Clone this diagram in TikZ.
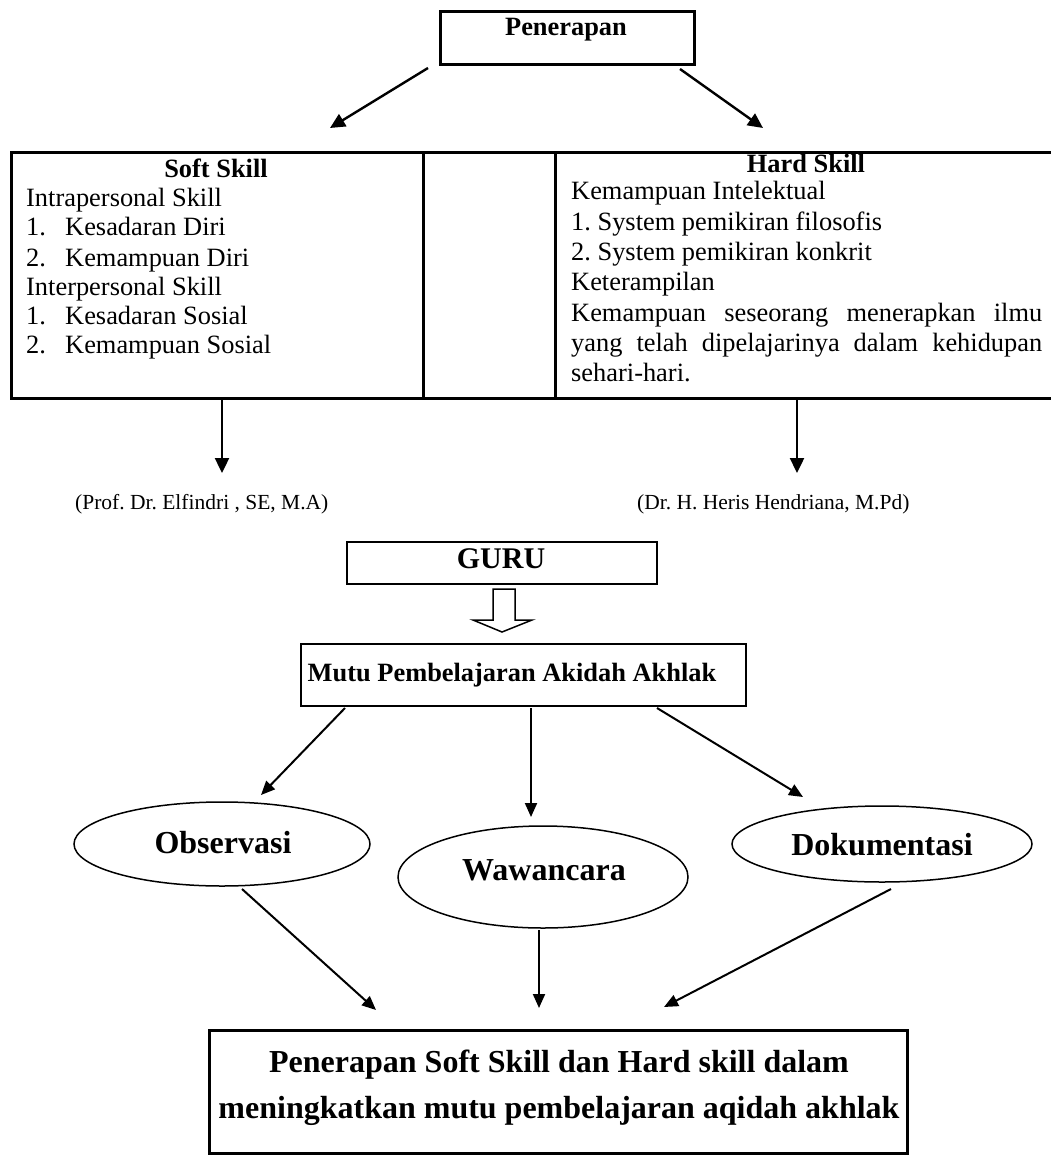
\documentclass[tikz,border=0pt]{standalone}
\usepackage{fontspec}
\setmainfont{Liberation Serif}
\frenchspacing
\usetikzlibrary{arrows.meta,shapes.geometric,calc}
\tikzset{
 body/.style={inner sep=0pt, font=\fontsize{26.4}{29}\selectfont},
 cite/.style={inner sep=0pt, font=\fontsize{21.5}{26}\selectfont},
 hdr/.style={inner sep=0pt, font=\fontsize{26.4}{29}\selectfont\bfseries},
 big/.style={inner sep=0pt, font=\fontsize{32}{38}\selectfont\bfseries},
 arr/.style={line width=2.4pt, -{Triangle[length=15pt,width=14pt]}},
 marr/.style={line width=2pt, -{Triangle[length=14pt,width=12pt]}},
 cell/.style={draw, line width=2.6pt, inner sep=0pt, anchor=north west},
 box/.style={draw, line width=2pt, inner sep=0pt, anchor=north west},
 oval/.style={draw, ellipse, line width=1.5pt, inner sep=0pt},
}
\begin{document}
\begin{tikzpicture}[x=1pt,y=-1pt]
\useasboundingbox (0,0) rectangle (1051,1158);
% top box
\node[box, line width=2.6pt, minimum width=254pt, minimum height=53pt] (pen) at (439,10) {};
\node[hdr, anchor=base] (pentxt) at (566,36) {Penerapan};
\coordinate (p1s) at (428,68); \coordinate (p1e) at (330,128);
\coordinate (p2s) at (680,69); \coordinate (p2e) at (763,128);
\draw[arr] (p1s) -- (p1e);
\draw[arr] (p2s) -- (p2e);
% table
\node[cell, minimum width=412pt, minimum height=246pt] (soft) at (10,151) {};
\node[cell, minimum width=132pt, minimum height=246pt] (mid) at (422,151) {};
\node[cell, minimum width=508pt, minimum height=246pt] (hard) at (554,151) {};
\node[hdr, anchor=base] (st) at (216,178) {Soft Skill};
\node[body, anchor=base west] (s1) at (26,207) {Intrapersonal Skill};
\node[body, anchor=base west] (s2n) at (26,236) {1.};
\node[body, anchor=base west] (s2) at (65,236) {Kesadaran Diri};
\node[body, anchor=base west] (s3n) at (26,266) {2.};
\node[body, anchor=base west] (s3) at (65,266) {Kemampuan Diri};
\node[body, anchor=base west] (s4) at (26,295) {Interpersonal Skill};
\node[body, anchor=base west] (s5n) at (26,324) {1.};
\node[body, anchor=base west] (s5) at (65,324) {Kesadaran Sosial};
\node[body, anchor=base west] (s6n) at (26,353) {2.};
\node[body, anchor=base west] (s6) at (65,353) {Kemampuan Sosial};
\node[hdr, anchor=base] (ht) at (806,173) {Hard Skill};
\node[body, anchor=base west] (h1) at (571,200) {Kemampuan Intelektual};
\node[body, anchor=base west] (h2) at (571,230) {1. System pemikiran filosofis};
\node[body, anchor=base west] (h3) at (571,260) {2. System pemikiran konkrit};
\node[body, anchor=base west] (h4) at (571,290) {Keterampilan};
\node[body, anchor=base west] (h5) at (571,321) {\makebox[471pt][s]{Kemampuan seseorang menerapkan ilmu}};
\node[body, anchor=base west] (h6) at (571,351) {\makebox[471pt][s]{yang telah dipelajarinya dalam kehidupan}};
\node[body, anchor=base west] (h7) at (571,381) {sehari-hari.};
\coordinate (t1s) at (222,400); \coordinate (t1e) at (222,473);
\coordinate (t2s) at (797,400); \coordinate (t2e) at (797,473);
\draw[arr] (t1s) -- (t1e);
\draw[arr] (t2s) -- (t2e);
\node[cite, anchor=base west] (c1) at (75,509) {(Prof. Dr. Elfindri , SE, M.A)};
\node[cite, anchor=base west] (c2) at (637,509) {(Dr. H. Heris Hendriana, M.Pd)};
% GURU
\node[box, minimum width=310pt, minimum height=42pt] (guru) at (346,541) {};
\node[inner sep=0pt, font=\fontsize{30}{36}\selectfont\bfseries, anchor=base] (gurutxt) at (501,568) {GURU};
\draw[line width=1.5pt] (493,589) -- (515,589) -- (515,620) -- (532,620) -- (502,632) -- (473,620) -- (493,620) -- cycle;
% Mutu
\node[box, minimum width=445pt, minimum height=62pt] (mutu) at (300,643) {};
\node[hdr, anchor=base] (mututxt) at (512,681) {Mutu Pembelajaran Akidah Akhlak};
% ellipses
\node[oval, minimum width=296pt, minimum height=84pt] (obs) at (222,844) {};
\node[big, anchor=base] (obstxt) at (223,853) {Observasi};
\node[oval, minimum width=290pt, minimum height=102pt] (waw) at (543,877) {};
\node[big, anchor=base] (wawtxt) at (544,880) {Wawancara};
\node[oval, minimum width=300pt, minimum height=76pt] (dok) at (882,844) {};
\node[big, anchor=base] (doktxt) at (882,855) {Dokumentasi};
\coordinate (m1s) at (345,708); \coordinate (m1e) at (261,795);
\coordinate (m2s) at (531,708); \coordinate (m2e) at (531,817);
\coordinate (m3s) at (657,708); \coordinate (m3e) at (803,797);
\draw[marr] (m1s) -- (m1e);
\draw[marr] (m2s) -- (m2e);
\draw[marr] (m3s) -- (m3e);
\coordinate (b1s) at (242,889); \coordinate (b1e) at (376,1010);
\coordinate (b2s) at (539,930); \coordinate (b2e) at (539,1008);
\coordinate (b3s) at (891,889); \coordinate (b3e) at (664,1007);
\draw[marr] (b1s) -- (b1e);
\draw[marr] (b2s) -- (b2e);
\draw[marr] (b3s) -- (b3e);
% result box
\node[box, line width=2.8pt, minimum width=698pt, minimum height=123pt] (res) at (208,1029) {};
\node[big, anchor=base] (r1) at (559,1072) {Penerapan Soft Skill dan Hard skill dalam};
\node[big, anchor=base] (r2) at (559,1118) {meningkatkan mutu pembelajaran aqidah akhlak};
\end{tikzpicture}
\end{document}
